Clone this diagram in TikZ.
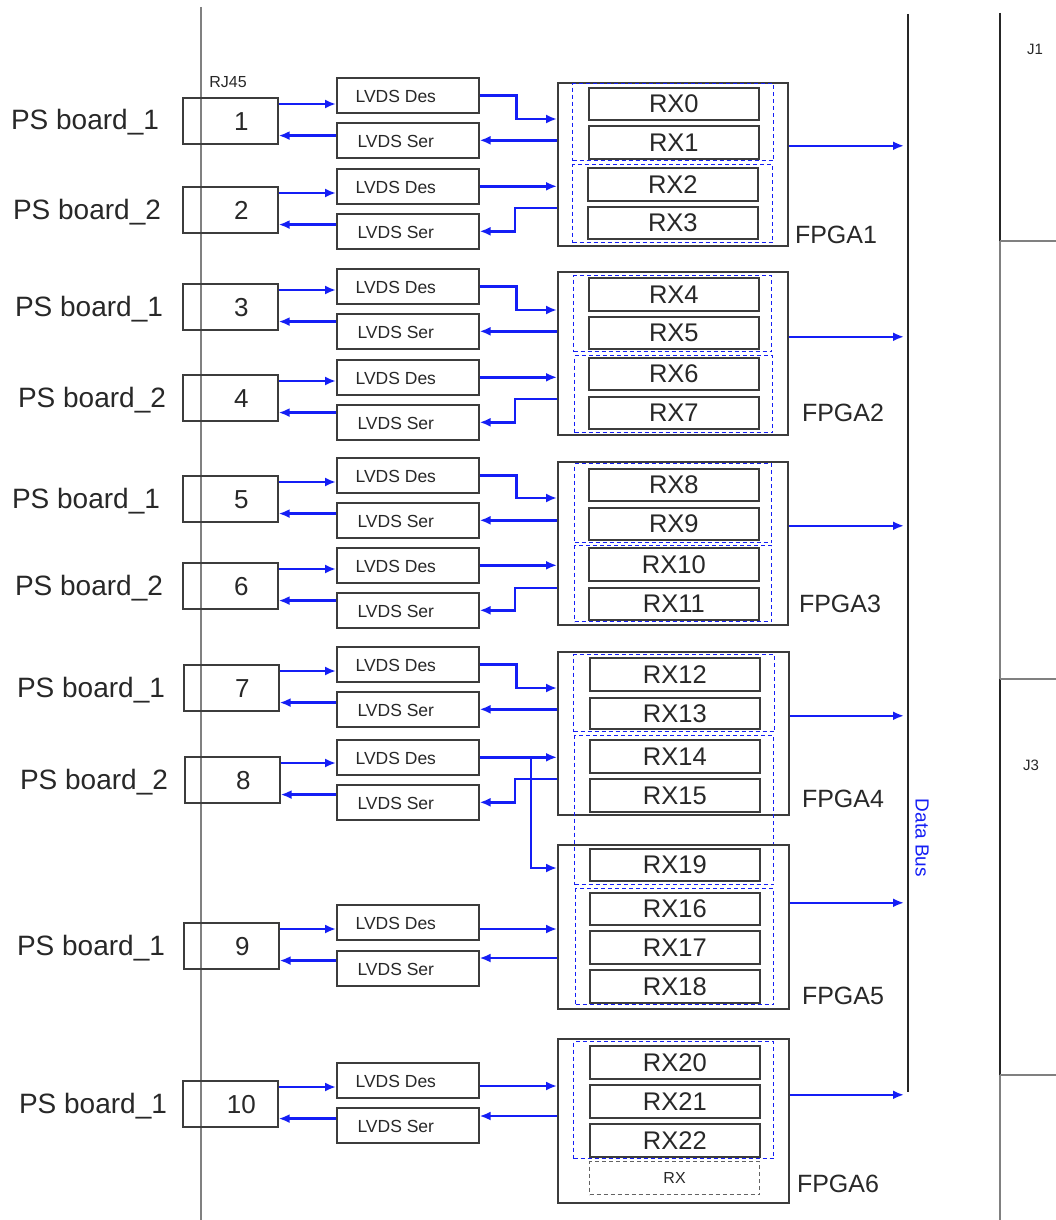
\documentclass[tikz,border=0pt]{standalone}
\usepackage{fontspec}
\setmainfont{Liberation Sans}
\usetikzlibrary{arrows.meta,calc}
\definecolor{sigblue}{RGB}{20,30,245}
\definecolor{edge}{RGB}{60,60,60}
\definecolor{txt}{RGB}{40,40,40}
\newcommand{\fs}[1]{\fontsize{#1}{#1}\selectfont}
\newcommand{\rbox}[7]{\node[#2, anchor=north west, inner sep=0pt, minimum width={(#5)-(#3)}, minimum height={(#6)-(#4)}] (#1) at (#3,#4) {#7};}
\tikzset{
  bx/.style={draw=edge, line width=1.6pt},
  fpga/.style={bx},
  grp/.style={draw=sigblue, line width=1.1pt, dash pattern=on 4pt off 3pt},
  rx/.style={bx, text=txt, font=\fs{25.5}, text height=18.3pt, text depth=0pt},
  rxdash/.style={draw=edge!80, line width=1.2pt, dash pattern=on 4pt off 3pt, text=txt, font=\fs{16}, text height=11.5pt, text depth=0pt},
  pbox/.style={bx, anchor=north west, inner sep=0pt, minimum width=95pt, minimum height=46pt},
  lvds/.style={bx, anchor=north west, inner sep=0pt, minimum width=142pt, minimum height=35pt},
  lvtext/.style={text=txt, font=\fs{17.5}, inner sep=0pt, text height=12.6pt, text depth=0pt},
  pnum/.style={text=txt, font=\fs{26}, inner sep=0pt, text height=18.6pt, text depth=0pt},
  board/.style={text=txt, font=\fs{28}, inner sep=0pt, text height=20pt, text depth=0pt},
  flabel/.style={text=txt, font=\fs{25}, inner sep=0pt, text height=18pt, text depth=0pt},
  small/.style={text=txt, font=\fs{15}, inner sep=0pt},
  sig/.style={draw=sigblue, line width=2.5pt, -{Latex[length=11pt,width=9pt]}},
  vline/.style={draw=gray, line width=1.7pt},
  busline/.style={draw=black!85, line width=2.4pt},
  jdark/.style={draw=black!85, line width=1.9pt},
}
\newcommand{\prow}[8]{%
  \node[pbox] (p#1) at (#5,#6) {};
  \node[pnum] (pn#1) at ($(p#1.center)+(11,0)$) {#2};
  \node[board] (b#1) at (#4,#6+23) {#3};
  \node[lvds] (d#1) at (336,#7) {};
  \node[lvtext] (dt#1) at ($(d#1.center)+(-12,1)$) {LVDS Des};
  \node[lvds] (s#1) at (336,#8) {};
  \node[lvtext] (st#1) at ($(s#1.center)+(-12,1)$) {LVDS Ser};
  \coordinate (pa#1) at ($(p#1.north east)+(0,7)$);
  \coordinate (pb#1) at ($(p#1.south east)+(0,-9)$);
  \draw[sig] (pa#1) -- (pa#1 -| d#1.west);
  \draw[sig] (pb#1 -| s#1.west) -- (pb#1);
}
\begin{document}
\begin{tikzpicture}[x=1pt,y=-1pt]
\fill[white] (0,0) rectangle (1056,1220);
\useasboundingbox (0,0) rectangle (1056,1220);

% left backplane line
\coordinate (lt) at (201,7);
\coordinate (lb) at (201,1220);
\draw[vline] (lt) -- (lb);
\node[small, font=\fs{16}] (rj) at (228,82) {RJ45};

% rows
\prow{1}{1}{PS board\_1}{85}{182}{97}{77}{122}
\prow{2}{2}{PS board\_2}{87}{182}{186}{168}{213}
\prow{3}{3}{PS board\_1}{89}{182}{283}{268}{313}
\prow{4}{4}{PS board\_2}{92}{182}{374}{359}{404}
\prow{5}{5}{PS board\_1}{86}{182}{475}{457}{502}
\prow{6}{6}{PS board\_2}{89}{182}{562}{547}{592}
\prow{7}{7}{PS board\_1}{91}{183}{664}{646}{691}
\prow{8}{8}{PS board\_2}{94}{184}{756}{739}{784}
\prow{9}{9}{PS board\_1}{91}{183}{922}{904}{950}
\prow{10}{10}{PS board\_1}{93}{182}{1080}{1062}{1107}

% FPGA1
\rbox{f1}{fpga}{557}{82}{787}{245}{}
\rbox{g1a}{grp}{572}{83}{773}{160}{}
\rbox{g1b}{grp}{572}{164}{772}{242}{}
\rbox{rx0}{rx}{588}{87}{758}{119}{RX0}
\rbox{rx1}{rx}{588}{125}{758}{158}{RX1}
\rbox{rx2}{rx}{587}{167}{757}{200}{RX2}
\rbox{rx3}{rx}{587}{206}{757}{238}{RX3}
\node[flabel] (fl1) at (836,234) {FPGA1};

% FPGA2
\rbox{f2}{fpga}{557}{271}{787}{434}{}
\rbox{g2a}{grp}{573}{275}{771}{351}{}
\rbox{g2b}{grp}{574}{355}{772}{432}{}
\rbox{rx4}{rx}{588}{277}{758}{310}{RX4}
\rbox{rx5}{rx}{588}{316}{758}{348}{RX5}
\rbox{rx6}{rx}{588}{357}{758}{389}{RX6}
\rbox{rx7}{rx}{588}{396}{758}{428}{RX7}
\node[flabel] (fl2) at (843,412) {FPGA2};

% FPGA3
\rbox{f3}{fpga}{557}{461}{787}{624}{}
\rbox{g3a}{grp}{574}{463}{771}{542}{}
\rbox{g3b}{grp}{574}{545}{771}{621}{}
\rbox{rx8}{rx}{588}{468}{758}{500}{RX8}
\rbox{rx9}{rx}{588}{507}{758}{539}{RX9}
\rbox{rx10}{rx}{588}{547}{758}{580}{RX10}
\rbox{rx11}{rx}{588}{587}{758}{619}{RX11}
\node[flabel] (fl3) at (840,603) {FPGA3};

% FPGA4
\rbox{f4}{fpga}{557}{651}{788}{814}{}
\rbox{g4a}{grp}{573}{654}{774}{731}{}
\rbox{g4b}{grp}{574}{735}{773}{884}{}
\rbox{rx12}{rx}{589}{657}{759}{690}{RX12}
\rbox{rx13}{rx}{589}{697}{759}{728}{RX13}
\rbox{rx14}{rx}{589}{739}{759}{772}{RX14}
\rbox{rx15}{rx}{589}{778}{759}{811}{RX15}
\node[flabel] (fl4) at (843,798) {FPGA4};

% FPGA5
\rbox{f5}{fpga}{557}{844}{788}{1008}{}
\rbox{g5a}{grp}{575}{888}{773}{1004}{}
\rbox{rx19}{rx}{589}{848}{759}{880}{RX19}
\rbox{rx16}{rx}{589}{892}{759}{924}{RX16}
\rbox{rx17}{rx}{589}{930}{759}{963}{RX17}
\rbox{rx18}{rx}{589}{969}{759}{1002}{RX18}
\node[flabel] (fl5) at (843,995) {FPGA5};

% FPGA6
\rbox{f6}{fpga}{557}{1038}{788}{1202}{}
\rbox{g6a}{grp}{573}{1041}{773}{1158}{}
\rbox{rx20}{rx}{589}{1045}{759}{1078}{RX20}
\rbox{rx21}{rx}{589}{1084}{759}{1117}{RX21}
\rbox{rx22}{rx}{589}{1123}{759}{1156}{RX22}
\rbox{rxs}{rxdash}{589}{1161}{759}{1194}{RX}
\node[flabel] (fl6) at (838,1183) {FPGA6};

% LVDS <-> FPGA connectors
\coordinate (f1a) at (557,119);
\coordinate (f1b) at (557,208);
\draw[sig] (d1.east) -- ++(37,0) |- (f1a);
\draw[sig] (f1.west |- s1.east) -- (s1.east);
\draw[sig] (d2.east) -- (f1.west |- d2.east);
\draw[sig] (f1b) -- ++(-42,0) |- (s2.east);

\coordinate (f2a) at (557,310);
\coordinate (f2b) at (557,399);
\draw[sig] (d3.east) -- ++(37,0) |- (f2a);
\draw[sig] (f2.west |- s3.east) -- (s3.east);
\draw[sig] (d4.east) -- (f2.west |- d4.east);
\draw[sig] (f2b) -- ++(-42,0) |- (s4.east);

\coordinate (f3a) at (557,498);
\coordinate (f3b) at (557,588);
\draw[sig] (d5.east) -- ++(37,0) |- (f3a);
\draw[sig] (f3.west |- s5.east) -- (s5.east);
\draw[sig] (d6.east) -- (f3.west |- d6.east);
\draw[sig] (f3b) -- ++(-42,0) |- (s6.east);

\coordinate (f4a) at (557,688);
\coordinate (f4b) at (557,779);
\draw[sig] (d7.east) -- ++(37,0) |- (f4a);
\draw[sig] (f4.west |- s7.east) -- (s7.east);
\draw[sig] (d8.east) -- (f4.west |- d8.east);
\draw[sig] (f4b) -- ++(-42,0) |- (s8.east);
\coordinate (br) at (531,756.5);
\coordinate (f5c) at (557,868);
\draw[sig] (br) |- (f5c);

\coordinate (f5a) at (557,929);
\coordinate (f5b) at (557,958);
\draw[sig] (d9.east |- f5a) -- (f5a);
\draw[sig] (f5b) -- (s9.east |- f5b);

\coordinate (f6a) at (557,1086);
\coordinate (f6b) at (557,1116);
\draw[sig] (d10.east |- f6a) -- (f6a);
\draw[sig] (f6b) -- (s10.east |- f6b);

% data bus
\coordinate (bustop) at (908,14);
\coordinate (busbot) at (908,1092);
\draw[busline] (bustop) -- (busbot);
\coordinate (busin) at (904,0);
\coordinate (o1) at ($(f1.east)+(0,-18.5)$);
\coordinate (o2) at ($(f2.east)+(0,-16.5)$);
\coordinate (o3) at ($(f3.east)+(0,-17.5)$);
\coordinate (o4) at ($(f4.east)+(0,-17.5)$);
\coordinate (o5) at ($(f5.east)+(0,-24)$);
\coordinate (o6) at ($(f6.east)+(0,-26)$);
\foreach \i in {1,...,6} {\draw[sig] (o\i) -- (o\i -| busin);}
\node[text=sigblue, font=\fs{19}, rotate=-90, inner sep=0pt] (dbus) at (922,838) {Data Bus};

% J connectors
\coordinate (jt) at (1000,13);
\coordinate (jb) at (1000,1220);
\draw[vline] (jt) -- (jb);
\coordinate (j1b) at (1000,241);
\coordinate (j3t) at (1000,679);
\coordinate (j3b) at (1000,1075);
\draw[jdark] (jt) -- (j1b);
\draw[jdark] (j3t) -- (j3b);
\draw[vline] (j1b) -- ++(56,0);
\draw[vline] (j3t) -- ++(56,0);
\draw[vline] (j3b) -- ++(56,0);
\node[small] (j1) at (1035,49) {J1};
\node[small] (j3) at (1031,765) {J3};
\end{tikzpicture}
\end{document}
